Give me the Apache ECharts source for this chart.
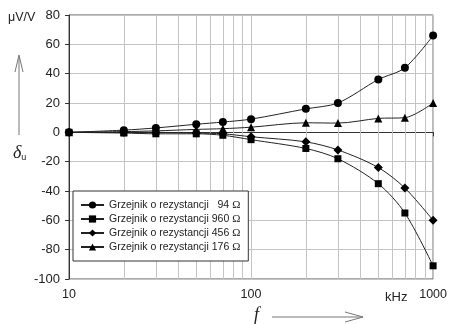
<!DOCTYPE html>
<html>
<head>
<meta charset="utf-8">
<script src="https://cdn.jsdelivr.net/npm/echarts@6/dist/echarts.min.js"></script>
<style>
  html, body { margin: 0; padding: 0; background: #fff; }
  #chart { width: 450px; height: 324px; }
</style>
</head>
<body>
<div id="chart"></div>
<script>
// frequency in kHz
var freq = [10, 20, 30, 50, 70, 100, 200, 300, 500, 700, 1000];
// delta_u in uV/V
var r94 = [0, 1.5, 3, 5.5, 7, 9, 16, 20, 36, 44, 66];
var r960 = [0, -0.5, -1, -1, -2, -5, -11, -18, -35, -55, -91];
var r456 = [0, 0, 0, -0.5, -1, -3, -6.5, -12, -24, -38, -60];
var r176 = [0, 0.5, 1, 2, 2.5, 3.5, 6.5, 6.3, 9.5, 10, 20];
var names = [
    'Grzejnik o rezystancji   94 Ω',
    'Grzejnik o rezystancji 960 Ω',
    'Grzejnik o rezystancji 456 Ω',
    'Grzejnik o rezystancji 176 Ω'
];
var symbols = ['circle', 'rect', 'diamond', 'triangle'];
var symbolSizes = [8, 7, 9, 8];
var minorGrid = [20, 30, 40, 50, 60, 70, 80, 90, 200, 300, 400, 500, 600, 700, 800, 900];

var chart = echarts.init(document.getElementById('chart'));

function pairs(vals) {
    return freq.map(function (f, i) { return [f, vals[i]]; });
}

var allVals = [r94, r960, r456, r176];
var series = allVals.map(function (vals, i) {
    return {
        name: names[i],
        type: 'line',
        data: pairs(vals),
        smooth: 0.3,
        symbol: symbols[i],
        symbolSize: symbolSizes[i],
        z: 3,
        lineStyle: { color: '#222', width: 1 },
        itemStyle: { color: '#000' }
    };
});

// minor vertical grid lines of the log axis
series.push({
    type: 'line',
    data: [],
    z: 1,
    silent: true,
    markLine: {
        silent: true,
        z: 1,
        symbol: 'none',
        label: { show: false },
        lineStyle: { color: '#c4c4c4', width: 1, type: 'solid' },
        data: minorGrid.map(function (v) { return { xAxis: v }; })
    }
});

var arrowStyle = { stroke: '#777', lineWidth: 1, fill: null };

var option = {
    animation: false,
    grid: {
        left: 69, right: 15, top: 15, bottom: 45,
        show: true, borderColor: '#555', borderWidth: 1
    },
    xAxis: {
        type: 'log',
        logBase: 10,
        min: 10,
        max: 1000,
        axisLine: { lineStyle: { color: '#333' } },
        axisTick: { show: true, length: 4, lineStyle: { color: '#333' } },
        axisLabel: {
            fontSize: 12.5, color: '#222', margin: 9, fontFamily: 'Liberation Sans',
            formatter: function (v) { return String(v); }
        },
        splitLine: { show: true, lineStyle: { color: '#c4c4c4' } }
    },
    yAxis: {
        type: 'value',
        min: -100,
        max: 80,
        interval: 20,
        axisLine: { show: true, lineStyle: { color: '#333' } },
        axisTick: { show: true, length: 4, lineStyle: { color: '#333' } },
        axisLabel: { fontSize: 13, color: '#222', margin: 9, fontFamily: 'Liberation Sans' },
        splitLine: { show: true, lineStyle: { color: '#c4c4c4' } }
    },
    legend: {
        data: names,
        orient: 'vertical',
        left: 73,
        top: 191,
        z: 10,
        backgroundColor: '#fff',
        borderColor: '#333',
        borderWidth: 1,
        borderRadius: 0,
        padding: [8, 8, 8, 7],
        itemWidth: 23,
        itemHeight: 9,
        itemGap: 2,
        formatter: function (name) { return name.replace('Ω', '{o|Ω}'); },
        textStyle: {
            fontSize: 10.5,
            color: '#222',
            fontFamily: 'Liberation Sans',
            lineHeight: 12,
            rich: { o: { fontSize: 11, fontFamily: 'Liberation Serif', color: '#222', lineHeight: 12 } }
        }
    },
    graphic: [
        { type: 'text', left: 8, top: 11, style: { text: 'μV/V', fontSize: 12.5, fill: '#222', fontFamily: 'Liberation Sans' } },
        { type: 'line', shape: { x1: 19, y1: 135, x2: 19, y2: 56 }, style: arrowStyle },
        { type: 'polyline', shape: { points: [[15, 72], [19, 55], [23, 72]] }, style: arrowStyle },
        {
            type: 'text', left: 13, top: 144,
            style: {
                text: '{d|δ}{s|u}',
                rich: {
                    d: { fontSize: 18, fontStyle: 'italic', fontFamily: 'Liberation Serif', fill: '#222' },
                    s: { fontSize: 9, fontFamily: 'Liberation Sans', fill: '#222', padding: [10, 0, 0, 0] }
                }
            }
        },
        { type: 'text', left: 385, top: 291, style: { text: 'kHz', fontSize: 13, fill: '#222', fontFamily: 'Liberation Sans' } },
        { type: 'text', left: 254, top: 306, style: { text: 'f', fontSize: 18, fontStyle: 'italic', fill: '#222', fontFamily: 'Liberation Serif' } },
        { type: 'line', shape: { x1: 272, y1: 317, x2: 363, y2: 317 }, style: arrowStyle },
        { type: 'polyline', shape: { points: [[345, 312], [363, 317], [345, 322]] }, style: arrowStyle }
    ],
    series: series
};

chart.setOption(option);

window.addEventListener('resize', function () {
    chart.resize();
});
</script>
</body>
</html>
